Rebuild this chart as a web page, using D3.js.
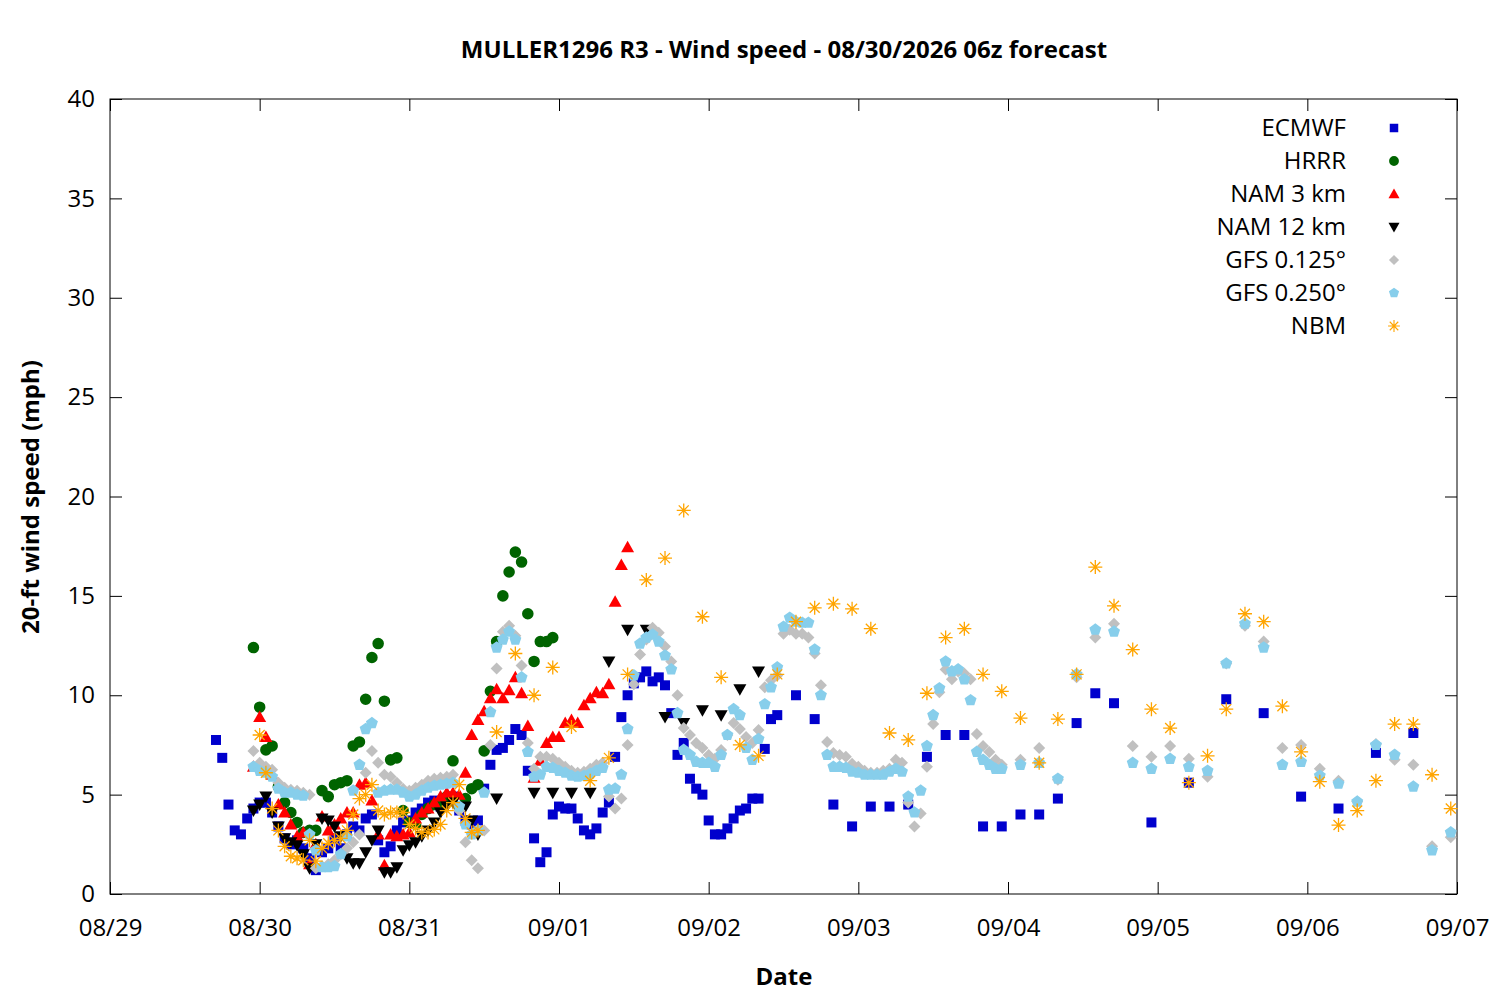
<!DOCTYPE html>
<html><head><meta charset="utf-8">
<script src="https://cdn.jsdelivr.net/npm/d3@7"></script>
<style>body{margin:0;background:#fff}svg{display:block}text{font-family:"Open Sans","Noto Sans",sans-serif}</style>
</head><body><svg id="c" width="1500" height="1000"></svg>
<script>
// times are hours since 2026-08-29 00:00
const baseDate = Date.UTC(2026, 7, 29, 0);
const xTickLabels = ["08/29","08/30","08/31","09/01","09/02","09/03","09/04","09/05","09/06","09/07"];
const yTicks = [0,5,10,15,20,25,30,35,40];
const seriesNames = ["ECMWF","HRRR","NAM 3 km","NAM 12 km","GFS 0.125°","GFS 0.250°","NBM"];

const ecmwf = [[17,7.75],[18,6.85],[19,4.5],[20,3.2],[21,3.0],[22,3.8],[23,4.3],[24,4.6],[25,4.6],[26,4.1],[27,3.4],[28,2.8],[29,2.5],[30,2.7],[31,2.3],[32,1.8],[33,1.2],[34,2.1],[35,2.3],[36,2.8],[37,2.3],[38,3.0],[39,3.4],[40,3.2],[41,3.8],[42,4.0],[43,2.7],[44,2.1],[45,2.4],[46,3.2],[47,3.6],[48,3.7],[49,4.1],[50,4.3],[51,4.6],[52,4.7],[53,4.4],[54,4.8],[55,4.9],[56,4.2],[57,3.7],[58,3.5],[59,3.7],[60,5.3],[61,6.5],[62,7.25],[63,7.35],[64,7.75],[65,8.3],[66,8.0],[67,6.2],[68,2.8],[69,1.6],[70,2.1],[71,4.0],[72,4.4],[73,4.3],[74,4.3],[75,3.8],[76,3.2],[77,3.0],[78,3.3],[79,4.1],[80,4.6],[81,6.9],[82,8.9],[83,10.0],[84,10.6],[85,10.9],[86,11.2],[87,10.7],[88,10.9],[89,10.5],[90,9.1],[91,7.0],[92,7.6],[93,5.8],[94,5.3],[95,5.0],[96,3.7],[97,3.0],[98,3.0],[99,3.3],[100,3.8],[101,4.2],[102,4.3],[103,4.8],[104,4.8],[105,7.3],[106,8.8],[107,9.0],[110,10.0],[113,8.8],[116,4.5],[119,3.4],[122,4.4],[125,4.4],[128,4.5],[131,6.9],[134,8.0],[137,8.0],[140,3.4],[143,3.4],[146,4.0],[149,4.0],[152,4.8],[155,8.6],[158,10.1],[161,9.6],[167,3.6],[173,5.6],[179,9.8],[185,9.1],[191,4.9],[197,4.3],[203,7.1],[209,8.1]];

const hrrr = [[23,12.4],[24,9.4],[25,7.25],[26,7.45],[27,5.4],[28,4.6],[29,4.1],[30,3.6],[31,3.1],[32,3.2],[33,3.2],[34,5.2],[35,4.9],[36,5.5],[37,5.6],[38,5.7],[39,7.45],[40,7.65],[41,9.8],[42,11.9],[43,12.6],[44,9.7],[45,6.75],[46,6.85],[47,4.2],[48,3.6],[49,3.5],[50,4.0],[51,4.3],[52,4.5],[53,4.6],[54,4.9],[55,6.7],[56,4.4],[57,4.8],[58,5.3],[59,5.5],[60,7.2],[61,10.2],[62,12.7],[63,15.0],[64,16.2],[65,17.2],[66,16.7],[67,14.1],[68,11.7],[69,12.7],[70,12.7],[71,12.9]];

const nam3 = [[23,6.4],[24,8.9],[25,7.9],[26,6.0],[27,4.5],[28,4.1],[29,3.5],[30,2.9],[31,3.1],[32,1.5],[33,2.5],[34,3.9],[35,3.2],[36,3.5],[37,3.8],[38,4.1],[39,4.1],[40,5.5],[41,5.6],[42,4.7],[43,3.0],[44,1.45],[45,3.0],[46,2.9],[47,3.0],[48,3.1],[49,3.8],[50,4.1],[51,4.3],[52,4.6],[53,4.9],[54,5.1],[55,5.1],[56,5.0],[57,6.1],[58,8.0],[59,8.75],[60,9.2],[61,9.85],[62,10.3],[63,9.85],[64,10.25],[65,10.9],[66,10.1],[67,8.45],[68,5.85],[69,6.7],[70,7.6],[71,7.9],[72,7.9],[73,8.6],[74,8.75],[75,8.6],[76,9.5],[77,9.85],[78,10.15],[79,10.1],[80,10.55],[81,14.7],[82,16.55],[83,17.45]];

const nam12 = [[23,4.2],[24,4.5],[25,4.9],[26,4.1],[27,3.4],[28,2.8],[29,2.6],[30,2.45],[31,2.0],[32,1.3],[33,2.5],[34,3.8],[35,3.7],[36,3.4],[37,2.9],[38,1.8],[39,1.55],[40,1.55],[41,2.1],[42,2.7],[43,3.2],[44,1.1],[45,1.1],[46,1.35],[47,2.2],[48,2.45],[49,2.6],[50,2.9],[51,3.2],[52,3.6],[53,4.1],[54,4.4],[55,4.6],[56,4.3],[57,4.4],[58,3.7],[59,3.0],[62,4.8],[68,5.1],[71,5.1],[74,5.1],[77,5.1],[80,11.7],[83,13.3],[86,13.3],[89,8.9],[92,8.6],[95,9.25],[98,9.0],[101,10.3],[104,11.2]];

const gfs125 = [[23,7.2],[24,6.6],[25,6.4],[26,6.25],[27,5.6],[28,5.35],[29,5.25],[30,5.2],[31,5.1],[32,5.0],[33,1.3],[34,1.4],[35,1.5],[36,1.7],[37,2.0],[38,2.3],[39,2.6],[40,3.0],[41,6.1],[42,7.2],[43,6.6],[44,6.0],[45,5.9],[46,5.6],[47,5.3],[48,5.2],[49,5.35],[50,5.5],[51,5.7],[52,5.8],[53,5.85],[54,5.9],[55,6.0],[56,4.2],[57,2.6],[58,1.7],[59,1.3],[60,3.2],[61,7.5],[62,11.35],[63,13.2],[64,13.5],[65,13.0],[66,11.5],[67,7.6],[68,6.3],[69,6.9],[70,6.9],[71,6.8],[72,6.6],[73,6.4],[74,6.2],[75,6.1],[76,6.15],[77,6.3],[78,6.5],[79,6.6],[80,4.9],[81,4.3],[82,4.8],[83,7.5],[84,10.55],[85,12.05],[86,12.8],[87,13.4],[88,13.15],[89,12.45],[90,11.7],[91,10.0],[92,8.35],[93,8.0],[94,7.6],[95,7.35],[96,7.0],[97,6.8],[98,7.25],[99,8.0],[100,8.6],[101,8.3],[102,7.9],[103,7.6],[104,8.25],[105,10.4],[106,10.75],[107,11.0],[108,13.1],[109,13.3],[110,13.1],[111,13.1],[112,12.9],[113,12.1],[114,10.5],[115,7.65],[116,7.1],[117,7.0],[118,6.9],[119,6.55],[120,6.4],[121,6.2],[122,6.1],[123,6.1],[124,6.2],[125,6.3],[126,6.75],[127,6.6],[128,4.6],[129,3.4],[130,4.05],[131,6.4],[132,8.55],[133,10.15],[134,11.3],[135,10.8],[136,11.2],[137,11.1],[138,10.8],[139,8.05],[140,7.45],[141,7.15],[142,6.75],[143,6.5],[146,6.75],[149,7.35],[152,5.75],[155,10.9],[158,12.9],[161,13.6],[164,7.45],[167,6.9],[170,7.45],[173,6.8],[176,5.9],[179,11.6],[182,13.5],[185,12.7],[188,7.35],[191,7.5],[194,6.3],[197,5.7],[200,4.65],[203,7.55],[206,6.75],[209,6.5],[212,2.4],[215,2.85]];

const gfs250 = [[23,6.4],[24,6.2],[25,6.1],[26,5.9],[27,5.3],[28,5.1],[29,5.1],[30,5.0],[31,4.95],[32,3.0],[33,2.2],[34,1.35],[35,1.35],[36,1.4],[37,2.0],[38,2.9],[39,5.2],[40,6.5],[41,8.3],[42,8.6],[43,5.1],[44,5.2],[45,5.25],[46,5.25],[47,5.1],[48,4.9],[49,5.0],[50,5.2],[51,5.35],[52,5.45],[53,5.5],[54,5.55],[55,5.6],[56,4.4],[57,3.5],[58,3.0],[59,3.2],[60,5.1],[61,9.15],[62,12.4],[63,12.8],[64,13.2],[65,12.8],[66,10.9],[67,7.15],[68,5.9],[69,6.0],[70,6.4],[71,6.35],[72,6.2],[73,6.1],[74,5.95],[75,5.9],[76,5.95],[77,6.05],[78,6.2],[79,6.35],[80,5.25],[81,5.3],[82,6.0],[83,8.3],[84,11.0],[85,12.6],[86,12.9],[87,13.05],[88,12.7],[89,12.0],[90,11.3],[91,9.1],[92,7.25],[93,7.0],[94,6.65],[95,6.6],[96,6.6],[97,6.4],[98,7.0],[99,8.0],[100,9.3],[101,9.0],[102,7.35],[103,6.75],[104,7.8],[105,9.55],[106,10.4],[107,11.4],[108,13.45],[109,13.9],[110,13.7],[111,13.65],[112,13.65],[113,12.3],[114,10.0],[115,7.0],[116,6.4],[117,6.4],[118,6.35],[119,6.15],[120,6.1],[121,6.0],[122,6.0],[123,6.0],[124,6.0],[125,6.15],[126,6.3],[127,6.15],[128,4.9],[129,4.1],[130,5.2],[131,7.45],[132,9.0],[133,10.35],[134,11.7],[135,11.2],[136,11.3],[137,10.8],[138,9.75],[139,7.15],[140,6.75],[141,6.5],[142,6.3],[143,6.3],[146,6.5],[149,6.6],[152,5.8],[155,11.05],[158,13.3],[161,13.2],[164,6.6],[167,6.3],[170,6.8],[173,6.4],[176,6.2],[179,11.6],[182,13.6],[185,12.4],[188,6.5],[191,6.65],[194,5.95],[197,5.55],[200,4.65],[203,7.5],[206,7.0],[209,5.4],[212,2.2],[215,3.1]];

const nbm = [[24,8.0],[25,6.1],[26,4.3],[27,3.2],[28,2.4],[29,1.9],[30,1.8],[31,1.7],[32,2.7],[33,1.65],[34,2.3],[35,2.55],[36,2.7],[37,2.8],[38,3.2],[39,4.0],[40,4.8],[41,5.0],[42,5.5],[43,4.2],[44,4.0],[45,4.1],[46,4.1],[47,4.1],[48,3.5],[49,3.3],[50,3.1],[51,3.1],[52,3.25],[53,3.5],[54,4.2],[55,4.6],[56,5.5],[57,3.8],[58,3.1],[59,3.2],[62,8.15],[65,12.1],[68,10.0],[71,11.4],[74,8.4],[77,5.7],[80,6.85],[83,11.05],[86,15.8],[89,16.9],[92,19.3],[95,13.95],[98,10.9],[101,7.5],[104,6.95],[107,11.05],[110,13.7],[113,14.4],[116,14.6],[119,14.35],[122,13.35],[125,8.1],[128,7.75],[131,10.1],[134,12.9],[137,13.35],[140,11.05],[143,10.2],[146,8.85],[149,6.6],[152,8.8],[155,11.05],[158,16.45],[161,14.5],[164,12.3],[167,9.3],[170,8.35],[173,5.6],[176,6.95],[179,9.3],[182,14.1],[185,13.7],[188,9.45],[191,7.15],[194,5.65],[197,3.47],[200,4.2],[203,5.7],[206,8.55],[209,8.55],[212,6.0],[215,4.3]];

const seriesData = [ecmwf, hrrr, nam3, nam12, gfs125, gfs250, nbm];
const seriesColors = ["#0000cd","#006400","#ff0000","#000000","#c0c0c0","#87ceeb","#ffa500"];

const m = {l:110, r:1457, t:99, b:894};
const FONT = '"Open Sans","Noto Sans",sans-serif';
const svg = d3.select("#c");
const x = d3.scaleUtc().domain([new Date(baseDate), new Date(baseDate + 9*86400000)]).range([m.l, m.r]);
const y = d3.scaleLinear().domain([0,40]).range([m.b, m.t]);
const tOf = h => new Date(baseDate + h*3600000);

function markerPath(kind){
  switch(kind){
    case 0: return "M-5,-5H5V5H-5Z";
    case 1: return d3.symbol(d3.symbolCircle, 105)();
    case 2: return "M0,-6.5L6.5,5L-6.5,5Z";
    case 3: return "M0,6.5L6.5,-5L-6.5,-5Z";
    case 4: return "M0,-6L6,0L0,6L-6,0Z";
    case 5: {
      const r = 6.3; let p = "";
      for(let i=0;i<5;i++){const a=-Math.PI/2+i*2*Math.PI/5; p += (i?"L":"M")+(r*Math.cos(a)).toFixed(2)+","+(r*Math.sin(a)).toFixed(2);}
      return p+"Z";
    }
    case 6: return "M-7,0H7M0,-7V7M-5,-5L5,5M-5,5L5,-5";
  }
}
function drawMarker(g, kind, color){
  const p = g.append("path").attr("d", markerPath(kind));
  if(kind===6) p.attr("fill","none").attr("stroke",color).attr("stroke-width",1.3);
  else p.attr("fill",color);
  return p;
}

svg.append("rect").attr("x",m.l).attr("y",m.t).attr("width",m.r-m.l).attr("height",m.b-m.t)
  .attr("fill","none").attr("stroke","#000").attr("stroke-width",1);

const ticksX = d3.range(0,10).map(d => new Date(baseDate + d*86400000));
const gx = svg.append("g").attr("transform",`translate(0,${m.b})`)
  .call(d3.axisBottom(x).tickValues(ticksX).tickFormat((d,i)=>xTickLabels[i]).tickSizeInner(-12).tickSizeOuter(0).tickPadding(25));
const gxt = svg.append("g").attr("transform",`translate(0,${m.t})`)
  .call(d3.axisTop(x).tickValues(ticksX).tickFormat("").tickSizeInner(-12).tickSizeOuter(0));
const gy = svg.append("g").attr("transform",`translate(${m.l},0)`)
  .call(d3.axisLeft(y).tickValues(yTicks).tickSizeInner(-12).tickSizeOuter(0).tickPadding(15));
const gyr = svg.append("g").attr("transform",`translate(${m.r},0)`)
  .call(d3.axisRight(y).tickValues(yTicks).tickFormat("").tickSizeInner(-12).tickSizeOuter(0));
[gx,gxt,gy,gyr].forEach(g=>{g.select(".domain").remove(); g.selectAll("line").attr("stroke","#000");
  g.selectAll("text").attr("font-size",24).attr("fill","#000").attr("font-family",FONT);});

seriesData.forEach((data,k)=>{
  const g = svg.append("g");
  data.forEach(([h,v])=>{
    drawMarker(g, k, seriesColors[k]).attr("transform",`translate(${x(tOf(h))},${y(v)})`);
  });
});

seriesNames.forEach((name,i)=>{
  const yy = 128 + i*33;
  svg.append("text").attr("x",1346).attr("y",yy).attr("dy","0.35em").attr("text-anchor","end")
    .attr("font-size",24).text(name);
  const g = svg.append("g").attr("transform",`translate(1394,${yy}) scale(0.85)`);
  drawMarker(g, i, seriesColors[i]);
});

svg.append("text").attr("x",784).attr("y",58).attr("text-anchor","middle").attr("font-size",24).attr("font-weight","bold")
  .text("MULLER1296 R3 - Wind speed - 08/30/2026 06z forecast");
svg.append("text").attr("x",784).attr("y",985).attr("text-anchor","middle").attr("font-size",24).attr("font-weight","bold").text("Date");
svg.append("text").attr("transform","translate(39,497) rotate(-90)").attr("text-anchor","middle").attr("font-size",24).attr("font-weight","bold")
  .text("20-ft wind speed (mph)");
</script></body></html>
